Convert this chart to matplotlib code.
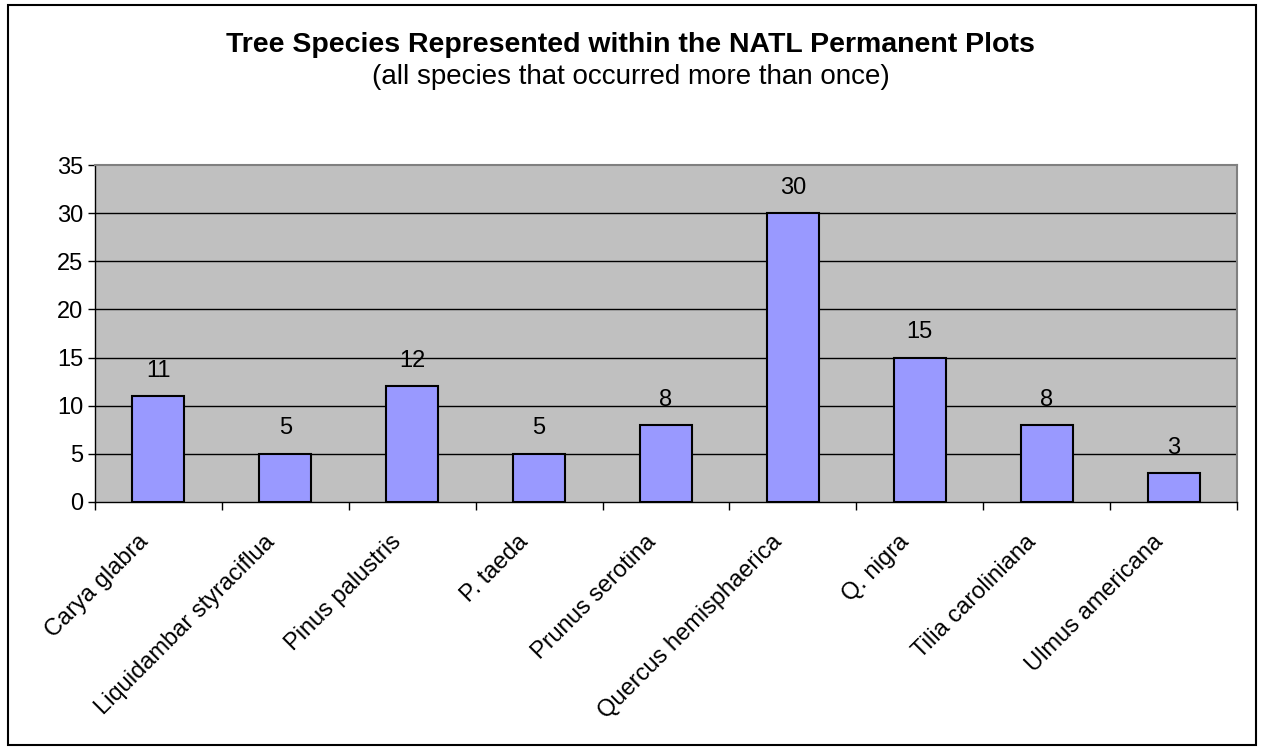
import matplotlib
matplotlib.use('Agg')
from matplotlib import pyplot as plt
from matplotlib.patches import Rectangle

species = ['Carya glabra', 'Liquidambar styraciflua', 'Pinus palustris', 'P. taeda',
           'Prunus serotina', 'Quercus hemisphaerica', 'Q. nigra', 'Tilia caroliniana',
           'Ulmus americana']
counts = [11, 5, 12, 5, 8, 30, 15, 8, 3]
yticks = [0, 5, 10, 15, 20, 25, 30, 35]

plt.rcParams['font.family'] = ['Liberation Sans', 'DejaVu Sans']

fig = plt.figure(figsize=(12.61, 7.48), dpi=100)
ax = fig.add_axes([95 / 1261, 1 - 502 / 748, 1142 / 1261, 337 / 748])

# outer chart border
fig.patches.append(Rectangle((8 / 1261, 3 / 748), 1248 / 1261, 740 / 748,
                             transform=fig.transFigure, fill=False,
                             edgecolor='black', linewidth=1.5))

x = list(range(len(species)))
ax.set_facecolor('#C0C0C0')
ax.bar(x, counts, width=0.41, color='#9999FF', edgecolor='black', linewidth=1.5, zorder=3)
for i, v in enumerate(counts):
    ax.text(i, v + 1.5, str(v), ha='center', va='bottom', fontsize=17, zorder=4)

ax.set_xlim(-0.5, len(species) - 0.5)
ax.set_ylim(0, 35)
ax.set_yticks(yticks)
ax.tick_params(axis='y', labelsize=17, length=5, direction='out', width=1)
for t in yticks[1:-1]:
    ax.axhline(t, color='black', linewidth=1, zorder=1)

# category boundary ticks on the x axis
ax.set_xticks([i - 0.5 for i in range(len(species) + 1)])
ax.set_xticklabels([])
ax.tick_params(axis='x', length=6, direction='out', width=1)
for i, name in enumerate(species):
    ax.text(i - 0.17, -3.0, name, rotation=45, ha='right', va='top',
            fontsize=17, rotation_mode='anchor')

for s in ['top', 'right']:
    ax.spines[s].set_color('#808080')
    ax.spines[s].set_linewidth(1.5)
for s in ['left', 'bottom']:
    ax.spines[s].set_color('black')
    ax.spines[s].set_linewidth(1)

fig.text(0.5, 1 - 45 / 748, 'Tree Species Represented within the NATL Permanent Plots',
         ha='center', va='center', fontsize=20.5, fontweight='bold')
fig.text(0.5, 1 - 77 / 748, '(all species that occurred more than once)',
         ha='center', va='center', fontsize=20)

plt.savefig('out.png', dpi=100)
